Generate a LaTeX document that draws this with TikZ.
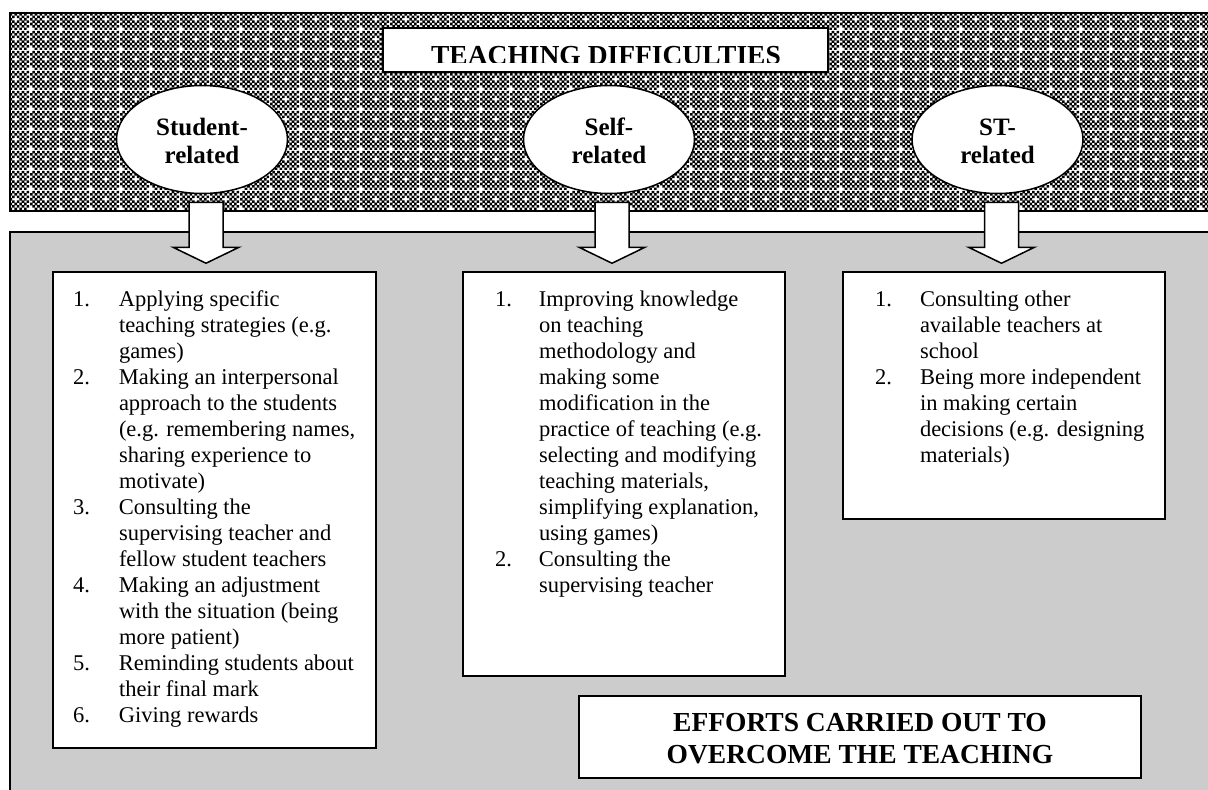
\documentclass[tikz,border=0pt]{standalone}
\usepackage{fontspec}
\setmainfont{Liberation Serif}
\usetikzlibrary{patterns,shapes.geometric,calc}
\definecolor{panelgray}{RGB}{204,204,204}
\pgfdeclarepatternformonly{tdcheck}{\pgfpointorigin}{\pgfqpoint{30pt}{20pt}}{\pgfqpoint{30pt}{20pt}}{%
  \foreach \i in {0,...,11}{%
    \foreach \j in {0,...,7}{%
      \def\skipit{0}%
      \ifnum\i=0 \ifnum\j=0 \def\skipit{1}\fi\fi
      \ifnum\i=6 \ifnum\j=4 \def\skipit{1}\fi\fi
      \ifodd\numexpr\i+\j\relax\def\skipit{1}\fi
      \ifnum\skipit=0
        \pgfpathrectangle{\pgfpoint{\i*2.5pt-0.1pt}{\j*2.5pt-0.1pt}}{\pgfqpoint{2.7pt}{2.7pt}}%
        \pgfusepath{fill}%
      \fi
    }%
  }%
}
\begin{document}
\begin{tikzpicture}[x=1pt,y=-1pt,
  box/.style={draw=black, line width=1.5pt, fill=white, inner sep=0pt, outer sep=0pt, anchor=north west},
  oval/.style={ellipse, draw=black, line width=1.5pt, fill=white, inner sep=0pt, minimum width=171pt, minimum height=108pt, align=center, font=\bfseries\fontsize{25}{28}\selectfont},
  blockarrow/.style={draw=black, line width=1.5pt, fill=white, line join=miter},
  listtext/.style={anchor=north west, inner sep=0pt, outer sep=0pt, font=\fontsize{22.5}{26}\selectfont},
  heading/.style={font=\bfseries\fontsize{27.5}{31.6}\selectfont, align=center, inner sep=0pt},
  downarrow/.pic={\draw[blockarrow] (-17,0) -- (17,0) -- (17,45) -- (33,45) -- (0,61) -- (-33,45) -- (-17,45) -- cycle;}]
\useasboundingbox (0,0) rectangle (1208,790);
\clip (0,0) rectangle (1208,790);
\fill[white] (0,0) rectangle (1208,790);
% top patterned panel
\path[pattern=tdcheck, pattern color=black] (10,13) rectangle (1222,211);
\draw[line width=2pt] (10,13) rectangle (1222,211);
% bottom grey panel
\draw[line width=1.5pt, fill=panelgray] (10,232) rectangle (1222,800);
% title
\node[box, minimum width=445pt, minimum height=44pt] (title) at (383,28) {};
\begin{scope}
\clip (383,28) rectangle (828,62.5);
\node[heading, anchor=base] (titletext) at (606,64) {TEACHING DIFFICULTIES};
\end{scope}
% categories
\node[oval] (st) at (202,139.5) {\strut Student-\\related};
\node[oval] (se) at (609,139.5) {\strut Self-\\related};
\node[oval] (sr) at (997.5,139.5) {\strut ST-\\related};
% result boxes
\node[box, minimum width=323pt, minimum height=476pt] (b1) at (53,272) {};
\node[box, minimum width=322pt, minimum height=404pt] (b2) at (463,272) {};
\node[box, minimum width=322pt, minimum height=247pt] (b3) at (843,272) {};
\node[box, minimum width=562pt, minimum height=82pt] (eff) at (579,696) {};
% block arrows
\coordinate (a1) at ($(st.south)+(4,8)$);
\coordinate (a2) at ($(se.south)+(3,8)$);
\coordinate (a3) at ($(sr.south)+(4,8)$);
\pic at (a1) {downarrow};
\pic at (a2) {downarrow};
\pic at (a3) {downarrow};
% texts
\node[listtext] (t1) at ($(b1.north west)+(20,15.8)$) {\begin{tabular}{@{}l@{}l@{}}
\makebox[46pt][l]{1.} & Applying specific\\
 & teaching strategies (e.g.\\
 & games)\\
\makebox[46pt][l]{2.} & Making an interpersonal\\
 & approach to the students\\
 & (e.g. remembering names,\\
 & sharing experience to\\
 & motivate)\\
\makebox[46pt][l]{3.} & Consulting the\\
 & supervising teacher and\\
 & fellow student teachers\\
\makebox[46pt][l]{4.} & Making an adjustment\\
 & with the situation (being\\
 & more patient)\\
\makebox[46pt][l]{5.} & Reminding students about\\
 & their final mark\\
\makebox[46pt][l]{6.} & Giving rewards
\end{tabular}};
\node[listtext] (t2) at ($(b2.north west)+(32,15.8)$) {\begin{tabular}{@{}l@{}l@{}}
\makebox[44pt][l]{1.} & Improving knowledge\\
 & on teaching\\
 & methodology and\\
 & making some\\
 & modification in the\\
 & practice of teaching (e.g.\\
 & selecting and modifying\\
 & teaching materials,\\
 & simplifying explanation,\\
 & using games)\\
\makebox[44pt][l]{2.} & Consulting the\\
 & supervising teacher
\end{tabular}};
\node[listtext] (t3) at ($(b3.north west)+(32,15.8)$) {\begin{tabular}{@{}l@{}l@{}}
\makebox[45pt][l]{1.} & Consulting other\\
 & available teachers at\\
 & school\\
\makebox[45pt][l]{2.} & Being more independent\\
 & in making certain\\
 & decisions (e.g. designing\\
 & materials)
\end{tabular}};
\node[heading] (efftext) at ($(eff.center)+(0,1.5)$) {EFFORTS CARRIED OUT TO\\OVERCOME THE TEACHING};
\end{tikzpicture}
\end{document}
